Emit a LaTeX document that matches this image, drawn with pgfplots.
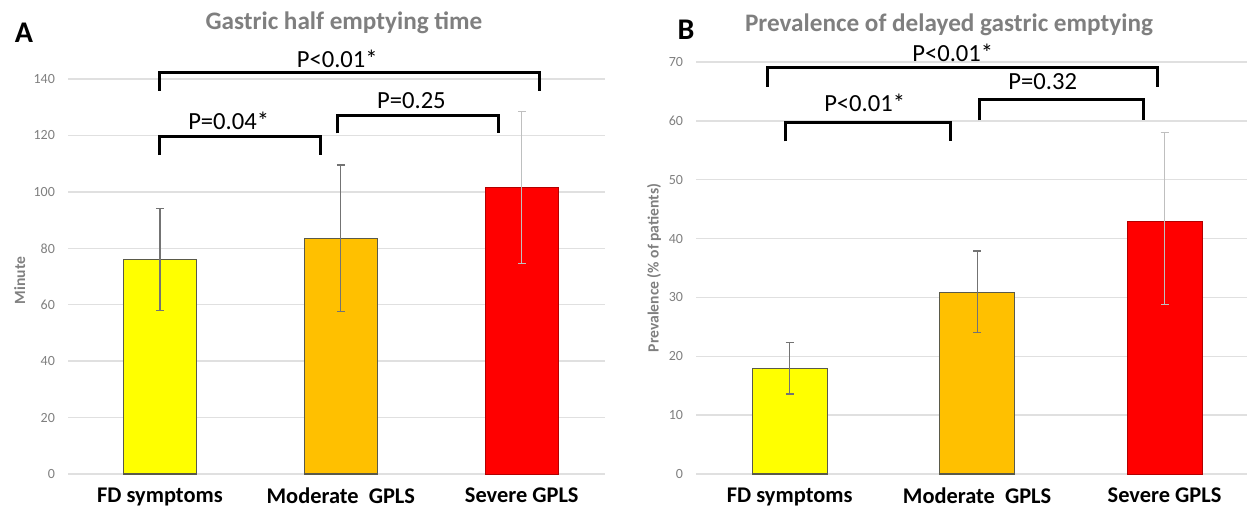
\documentclass[border=0pt]{standalone}
\usepackage{pgfplots}
\pgfplotsset{compat=1.18}
\usepackage{fontspec}
\setmainfont{Carlito}

\definecolor{fdyel}{HTML}{FFFF00}
\definecolor{modorg}{HTML}{FFC000}
\definecolor{sevred}{HTML}{FF0000}
\definecolor{txtgray}{HTML}{7F7F7F}
\definecolor{gridgray}{HTML}{E0E0E0}
\definecolor{edgegray}{HTML}{5A5A4A}

\pgfplotsset{
  panel/.style={
    scale only axis,
    ybar,
    axis line style={draw=none},
    major tick length=0pt,
    ymajorgrids,
    grid style={gridgray, line width=0.7pt},
    ymin=0,
    xtick={0,1,2},
    xticklabels={FD symptoms, Moderate\ \ GPLS, Severe GPLS},
    xticklabel style={font=\bfseries\fontsize{11.2}{13}\selectfont, black, yshift=-3.5pt},
    yticklabel style={font=\fontsize{7}{8}\selectfont, txtgray, xshift=-3pt},
    ylabel style={font=\bfseries\fontsize{7.8}{9}\selectfont, txtgray, anchor=center},
    /pgf/number format/assume math mode=true,
    clip=false,
    error bars/y dir=both,
    error bars/y explicit,
    error bars/error mark=-,
    error bars/error bar style={line width=0.6pt, black!55},
    error bars/error mark options={rotate=90, line width=0.6pt, black!55, mark size=2pt},
  },
}
\tikzset{
  bracket/.style={line width=1.5pt, black},
  plab/.style={font=\fontsize{12.3}{14}\selectfont, black},
}

\begin{document}
\begin{tikzpicture}
\useasboundingbox (0,0) rectangle (623.5pt,254pt);

% Panel A
\begin{axis}[panel,
  at={(34pt,17pt)}, anchor=south west,
  width=268.5pt, height=197.5pt,
  xmin=-0.508, xmax=2.46, ymax=140,
  ytick={0,20,...,140},
  ylabel={Minute},
  ylabel style={at={(axis description cs:-0.09,0.49)}},
]
\addplot[fill=fdyel, draw=edgegray, line width=0.6pt, bar width=36.5pt, bar shift=0pt]
  coordinates {(0,76) +- (0,18)};
\addplot[fill=modorg, draw=edgegray, line width=0.6pt, bar width=36.5pt, bar shift=0pt]
  coordinates {(1,83.5) +- (0,26)};
\addplot[fill=sevred, draw=sevred!70!black, line width=0.4pt, bar width=36.5pt, bar shift=0pt,
  error bars/error bar style={line width=0.6pt, black!25},
  error bars/error mark options={rotate=90, line width=0.6pt, black!25, mark size=2pt}]
  coordinates {(2,101.5) +- (0,27)};

\draw[bracket] (axis cs:0,135.8) -- (axis cs:0,142.2) -- (axis cs:2.1,142.2) -- (axis cs:2.1,135.8);
\draw[bracket] (axis cs:0,113) -- (axis cs:0,119.7) -- (axis cs:0.89,119.7) -- (axis cs:0.89,113);
\draw[bracket] (axis cs:0.98,120.7) -- (axis cs:0.98,127.2) -- (axis cs:1.87,127.2) -- (axis cs:1.87,120.7);
\node[plab] at (axis cs:0.98,147) {P<0.01*};
\node[plab] at (axis cs:0.38,125) {P=0.04*};
\node[plab] at (axis cs:1.39,132.2) {P=0.25};
\end{axis}

% Panel B
\begin{axis}[panel,
  at={(348pt,17pt)}, anchor=south west,
  width=275.5pt, height=206pt,
  xmin=-0.50, xmax=2.44, ymax=70,
  ytick={0,10,...,70},
  ylabel={Prevalence (\% of patients)},
  ylabel style={at={(axis description cs:-0.076,0.5)}},
]
\addplot[fill=fdyel, draw=edgegray, line width=0.6pt, bar width=37.5pt, bar shift=0pt]
  coordinates {(0,17.9) += (0,4.5) -= (0,4.3)};
\addplot[fill=modorg, draw=edgegray, line width=0.6pt, bar width=37.5pt, bar shift=0pt]
  coordinates {(1,30.8) += (0,7.1) -= (0,6.7)};
\addplot[fill=sevred, draw=sevred!70!black, line width=0.4pt, bar width=37.5pt, bar shift=0pt,
  error bars/error bar style={line width=0.6pt, black!25},
  error bars/error mark options={rotate=90, line width=0.6pt, black!25, mark size=2pt}]
  coordinates {(2,42.9) += (0,15.1) -= (0,14.1)};

\draw[bracket] (axis cs:-0.12,65.8) -- (axis cs:-0.12,69) -- (axis cs:1.96,69) -- (axis cs:1.96,65.8);
\draw[bracket] (axis cs:-0.02,56.5) -- (axis cs:-0.02,59.8) -- (axis cs:0.86,59.8) -- (axis cs:0.86,56.5);
\draw[bracket] (axis cs:1.01,60.1) -- (axis cs:1.01,63.7) -- (axis cs:1.89,63.7) -- (axis cs:1.89,60.1);
\node[plab] at (axis cs:0.87,71.6) {P<0.01*};
\node[plab] at (axis cs:0.40,63) {P<0.01*};
\node[plab] at (axis cs:1.35,66.7) {P=0.32};
\end{axis}

% titles and panel letters
\node[font=\bfseries\fontsize{12.6}{14}\selectfont, txtgray] at (172pt,242.5pt) {Gastric half emptying time};
\node[font=\bfseries\fontsize{12.6}{14}\selectfont, txtgray] at (474.5pt,241.5pt) {Prevalence of delayed gastric emptying};
\node[font=\bfseries\fontsize{15}{17}\selectfont, black] at (12pt,237.5pt) {A};
\node[font=\bfseries\fontsize{15}{17}\selectfont, black] at (343pt,239pt) {B};
\end{tikzpicture}
\end{document}
